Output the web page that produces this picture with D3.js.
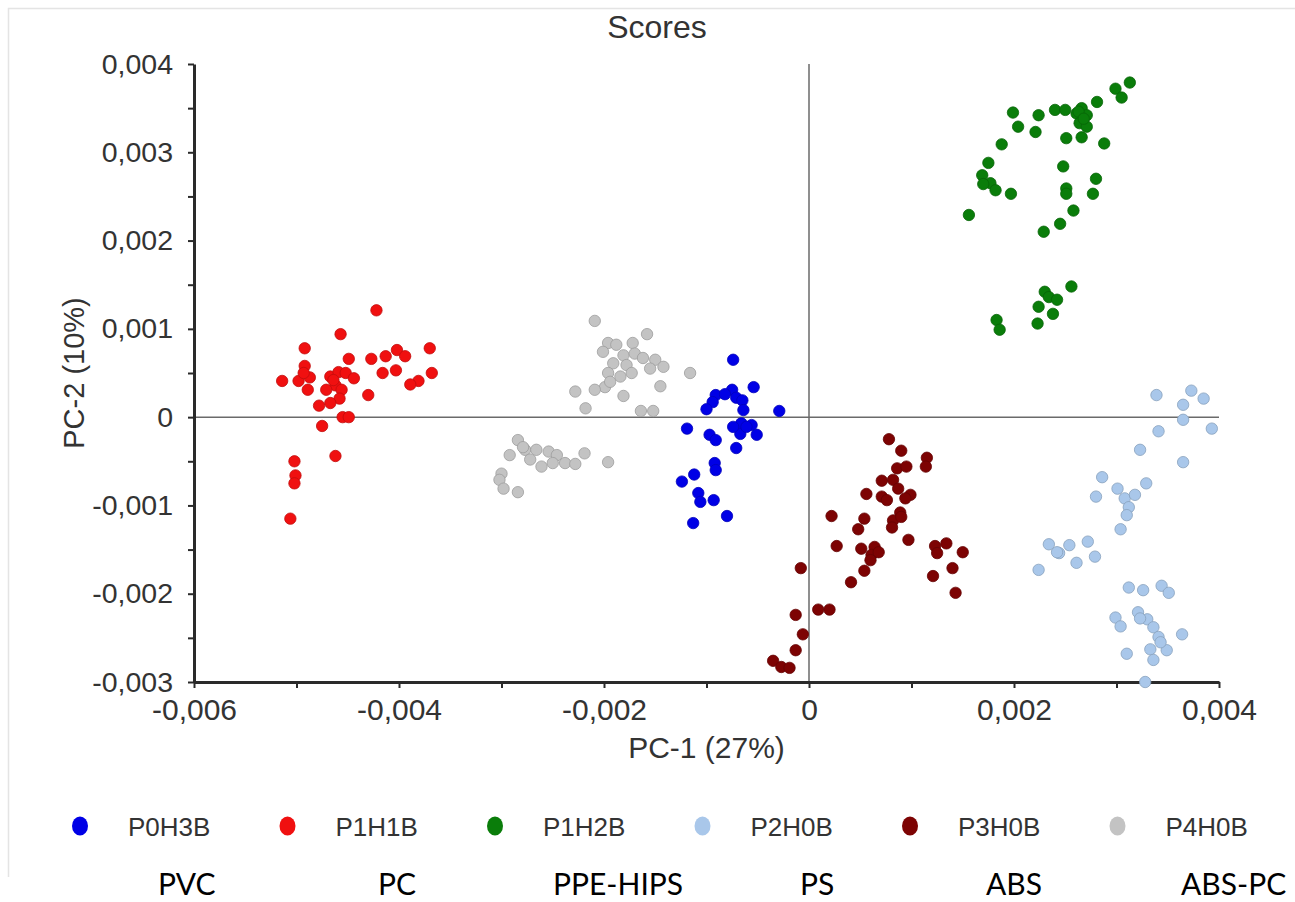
<!DOCTYPE html>
<html>
<head>
<meta charset="utf-8">
<script src="https://cdn.jsdelivr.net/npm/d3@7"></script>
<style>
  body { margin: 0; background: #fff; }
  svg { display: block; font-family: "Liberation Sans", Arial, sans-serif; }
</style>
</head>
<body>
<div id="chart"></div>
<script>
(function() {

  // scores, in units of 1e-3 (PC-1, PC-2)
  const p0h3b = [[-0.74,0.65],[-0.54,0.34],[-0.91,0.25],[-0.94,0.17],[-1.00,0.09],[-0.75,0.31],
    [-0.71,0.22],[-0.65,0.19],[-0.64,0.08],[-0.29,0.07],[-1.19,-0.13],[-0.97,-0.20],[-0.91,-0.26],
    [-0.66,-0.07],[-0.56,-0.09],[-0.51,-0.20],[-0.67,-0.19],[-0.71,-0.35],[-0.92,-0.52],[-0.91,-0.60],
    [-1.12,-0.65],[-1.24,-0.73],[-1.08,-0.86],[-1.06,-0.96],[-0.93,-0.94],[-0.80,-1.12],[-1.13,-1.20],
    [-0.61,-0.11],[-0.74,-0.11],[-0.82,0.26]];
  const p1h1b = [[-4.22,1.21],[-4.57,0.94],[-4.92,0.78],[-4.49,0.66],[-4.27,0.66],[-4.13,0.69],
    [-4.02,0.76],[-3.94,0.69],[-3.70,0.78],[-3.68,0.50],[-3.81,0.41],[-3.89,0.37],[-4.03,0.53],
    [-4.16,0.50],[-4.30,0.25],[-5.14,0.41],[-4.98,0.41],[-4.92,0.58],[-4.87,0.45],[-4.89,0.31],
    [-4.67,0.46],[-4.59,0.51],[-4.52,0.50],[-4.44,0.44],[-4.62,0.36],[-4.56,0.31],[-4.58,0.21],
    [-4.67,0.16],[-4.78,0.13],[-4.55,0.00],[-4.49,0.00],[-4.75,-0.10],[-4.62,-0.44],[-5.02,-0.50],
    [-5.01,-0.66],[-5.02,-0.75],[-5.06,-1.15],[-4.64,0.42],[-4.71,0.31],[-4.93,0.50]];
  const p1h2b = [[3.13,3.79],[2.99,3.72],[3.05,3.62],[2.81,3.57],[2.66,3.50],[2.61,3.44],[2.71,3.42],
    [2.40,3.48],[2.50,3.48],[2.24,3.42],[1.99,3.45],[2.04,3.29],[2.21,3.23],[2.64,3.33],[2.71,3.29],
    [2.66,3.17],[2.51,3.16],[2.88,3.10],[1.88,3.09],[1.75,2.88],[2.48,2.84],[1.69,2.74],[1.77,2.65],
    [1.82,2.57],[1.70,2.64],[1.97,2.53],[2.80,2.70],[2.77,2.53],[2.51,2.59],[2.51,2.53],[2.58,2.34],
    [2.45,2.19],[2.29,2.10],[1.56,2.29],[2.56,1.48],[2.30,1.42],[2.34,1.36],[2.42,1.33],[2.24,1.25],
    [2.38,1.17],[2.23,1.06],[1.83,1.10],[1.86,0.99],[2.63,3.46],[2.68,3.38]];
  const p2h0b = [[3.39,0.25],[3.73,0.30],[3.85,0.21],[3.65,0.14],[3.65,-0.03],[3.93,-0.13],[3.41,-0.16],
    [3.23,-0.37],[3.65,-0.51],[2.86,-0.68],[3.29,-0.75],[2.80,-0.90],[3.01,-0.81],[3.08,-0.92],
    [3.18,-0.88],[3.12,-1.02],[3.10,-1.11],[3.04,-1.27],[2.34,-1.44],[2.44,-1.54],[2.54,-1.45],
    [2.72,-1.41],[2.79,-1.58],[2.61,-1.65],[2.24,-1.73],[3.12,-1.93],[3.26,-1.96],[3.44,-1.91],
    [3.51,-1.99],[2.99,-2.27],[3.04,-2.37],[3.21,-2.21],[3.30,-2.29],[3.36,-2.38],[3.41,-2.49],
    [3.64,-2.46],[3.49,-2.64],[3.33,-2.63],[3.36,-2.75],[3.10,-2.68],[3.28,-3.00],[2.42,-1.53],
    [3.43,-2.55],[3.23,-2.28]];
  const p3h0b = [[0.78,-0.25],[0.90,-0.38],[1.15,-0.46],[1.14,-0.56],[0.86,-0.58],[0.95,-0.56],
    [0.71,-0.72],[0.82,-0.71],[0.87,-0.81],[0.56,-0.87],[0.71,-0.90],[0.76,-0.94],[0.99,-0.88],
    [0.94,-0.92],[0.22,-1.12],[0.54,-1.15],[0.48,-1.27],[0.89,-1.08],[0.82,-1.17],[0.81,-1.25],
    [0.97,-1.39],[0.27,-1.46],[0.51,-1.49],[0.64,-1.47],[0.61,-1.56],[0.60,-1.62],[0.54,-1.74],
    [0.41,-1.87],[1.23,-1.46],[1.34,-1.43],[1.25,-1.54],[1.50,-1.53],[1.40,-1.71],[1.21,-1.80],
    [1.43,-1.99],[-0.08,-1.71],[0.09,-2.18],[0.20,-2.18],[-0.13,-2.24],[-0.06,-2.46],[-0.13,-2.64],
    [-0.35,-2.76],[-0.27,-2.83],[-0.19,-2.84],[0.68,-1.53],[0.90,-1.13]];
  const p4h0b = [[-2.09,1.09],[-1.58,0.94],[-1.96,0.84],[-1.88,0.82],[-1.72,0.84],[-2.01,0.74],
    [-1.81,0.70],[-1.70,0.72],[-1.62,0.67],[-1.50,0.65],[-1.42,0.57],[-1.91,0.61],[-1.78,0.59],
    [-1.55,0.55],[-1.96,0.50],[-1.84,0.46],[-1.73,0.50],[-1.99,0.34],[-2.09,0.31],[-1.81,0.24],
    [-1.45,0.35],[-1.16,0.50],[-2.28,0.29],[-2.18,0.10],[-1.64,0.07],[-1.52,0.07],[-1.94,0.40],
    [-2.84,-0.26],[-2.92,-0.43],[-2.77,-0.37],[-2.66,-0.37],[-2.54,-0.39],[-2.46,-0.43],[-2.72,-0.48],
    [-2.61,-0.56],[-2.50,-0.52],[-2.38,-0.52],[-2.28,-0.53],[-2.19,-0.41],[-1.96,-0.51],[-3.00,-0.64],
    [-3.02,-0.71],[-2.98,-0.81],[-2.84,-0.85],[-2.79,-0.34]];

  const groups = ['P0H3B', 'P1H1B', 'P1H2B', 'P2H0B', 'P3H0B', 'P4H0B'];
  const materials = ['PVC', 'PC', 'PPE-HIPS', 'PS', 'ABS', 'ABS-PC'];
  const groupScores = [p0h3b, p1h1b, p1h2b, p2h0b, p3h0b, p4h0b];
  const groupColors = ['#0000e6', '#f01010', '#0a7d0a', '#a9c7ea', '#7d0303', '#c3c3c3'];
  // draw order: grey & light blue behind the rest
  const drawOrder = [5, 3, 1, 0, 4, 2];

  const xTicks = [-0.006, -0.004, -0.002, 0, 0.002, 0.004];
  const yTicks = [-0.003, -0.002, -0.001, 0, 0.001, 0.002, 0.003, 0.004];

  const width = 1295, height = 902;
  const plot = { left: 194, right: 1219, top: 64, bottom: 682 };
  // left edge of each material name under the legend
  const materialX = [158, 378, 553, 800, 986, 1181];

  const locale = d3.formatLocale({ decimal: ',', thousands: '.', grouping: [3], currency: ['', ''], minus: '-' });
  const fmt = locale.format('.3f');
  const tickFormat = d => d === 0 ? '0' : fmt(d);

  const x = d3.scaleLinear().domain([-0.006, 0.004]).range([plot.left, plot.right]);
  const y = d3.scaleLinear().domain([-0.003, 0.004]).range([plot.bottom, plot.top]);

  const svg = d3.select('#chart').append('svg')
    .attr('width', width)
    .attr('height', height);

  // light frame of the pasted figure
  svg.append('path')
    .attr('d', 'M8.5,877V8.5H1295')
    .attr('fill', 'none')
    .attr('stroke', '#e4e4e4')
    .attr('stroke-width', 1.5);

  svg.append('text')
    .text('Scores')
    .attr('x', 657)
    .attr('y', 38)
    .attr('text-anchor', 'middle')
    .attr('font-size', 32)
    .attr('fill', '#333');

  // zero lines
  svg.append('line')
    .attr('x1', x(-0.006)).attr('x2', x(0.004))
    .attr('y1', y(0)).attr('y2', y(0))
    .attr('stroke', '#6a6a6a').attr('stroke-width', 1.5);
  svg.append('line')
    .attr('x1', x(0)).attr('x2', x(0))
    .attr('y1', y(0.004)).attr('y2', y(-0.003))
    .attr('stroke', '#6a6a6a').attr('stroke-width', 1.5);

  // axes
  const xAxis = svg.append('g')
    .attr('transform', `translate(0, ${plot.bottom})`)
    .call(d3.axisBottom(x)
      .tickValues(d3.range(-6, 5).map(d => d / 1000))
      .tickFormat(d => xTicks.some(t => Math.abs(t - d) < 1e-9) ? tickFormat(d) : '')
      .tickSize(6)
      .tickSizeOuter(0));
  const yAxis = svg.append('g')
    .attr('transform', `translate(${plot.left}, 0)`)
    .call(d3.axisLeft(y)
      .tickValues(d3.range(-6, 9).map(d => d / 2000))
      .tickFormat(d => yTicks.some(t => Math.abs(t - d) < 1e-9) ? tickFormat(d) : '')
      .tickSize(6)
      .tickSizeOuter(0));

  [xAxis, yAxis].forEach(g => {
    g.select('.domain').attr('stroke', '#2a2a2a').attr('stroke-width', 3);
    g.selectAll('.tick line').attr('stroke', '#2a2a2a').attr('stroke-width', 2);
    g.selectAll('.tick text')
      .attr('font-family', '"Liberation Sans", Arial, sans-serif')
      .attr('fill', '#333');
  });
  xAxis.selectAll('.tick text').attr('font-size', 30).attr('dy', '0.98em');
  yAxis.selectAll('.tick text').attr('font-size', 28.5).attr('x', -21);

  svg.append('text')
    .text('PC-1 (27%)')
    .attr('x', (plot.left + plot.right) / 2)
    .attr('y', 758)
    .attr('text-anchor', 'middle')
    .attr('font-size', 30)
    .attr('fill', '#333');
  svg.append('text')
    .text('PC-2 (10%)')
    .attr('transform', `translate(84, ${(plot.top + plot.bottom) / 2}) rotate(-90)`)
    .attr('text-anchor', 'middle')
    .attr('font-size', 29)
    .attr('fill', '#333');

  // scores
  const points = svg.append('g');
  drawOrder.forEach(i => {
    const data = groupScores[i].map(([px, py]) => ({ x: px / 1000, y: py / 1000 }));
    points.selectAll(`.g${i}`)
      .data(data)
      .enter()
      .append('circle')
        .attr('class', `g${i}`)
        .attr('cx', d => x(d.x))
        .attr('cy', d => y(d.y))
        .attr('r', 5.7)
        .attr('fill', groupColors[i])
        .attr('stroke', d3.color(groupColors[i]).darker(0.6))
        .attr('stroke-width', 0.8);
  });

  // legend
  const legend = svg.append('g');
  groups.forEach((name, i) => {
    const lx = 80 + i * 207.5;
    legend.append('ellipse')
      .attr('cx', lx)
      .attr('cy', 826)
      .attr('rx', 8)
      .attr('ry', 9.5)
      .attr('fill', groupColors[i]);
    legend.append('text')
      .text(name)
      .attr('x', lx + 48)
      .attr('y', 836)
      .attr('font-size', 26)
      .attr('fill', '#333');
    legend.append('text')
      .text(materials[i])
      .attr('x', materialX[i])
      .attr('y', 895)
      .attr('font-family', 'Lato, "Liberation Sans", sans-serif')
      .attr('font-size', 30)
      .attr('fill', '#000');
  });

}());
</script>
</body>
</html>
